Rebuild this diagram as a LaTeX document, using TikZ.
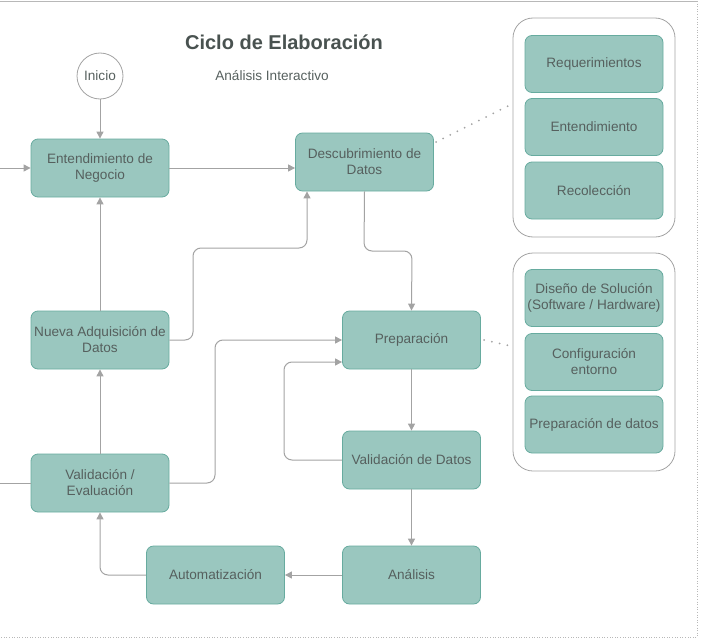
\documentclass[tikz,border=0pt]{standalone}
\usepackage{fontspec}
\setmainfont{Liberation Sans}
\usetikzlibrary{arrows.meta}
\definecolor{boxfill}{HTML}{9AC7BF}
\definecolor{boxline}{HTML}{67AB9F}
\definecolor{boxtext}{HTML}{56605E}
\definecolor{wire}{HTML}{A3A3A3}
\definecolor{frame}{HTML}{B8B8B8}
\begin{document}
\begin{tikzpicture}[x=1pt,y=-1pt,
  box/.style={draw=boxline,fill=boxfill,rounded corners=7pt,line width=0.8pt,
    minimum width=138pt,minimum height=58pt,inner sep=0pt,align=center,
    text=boxtext,font=\fontsize{13.6}{16}\selectfont},
  sbox/.style={box,minimum width=138pt,minimum height=57pt},
  group/.style={draw=wire,rounded corners=20pt,line width=0.8pt,minimum width=162pt,inner sep=0pt},
  conn/.style={draw=wire,line width=1pt,rounded corners=8pt,-{Triangle[length=7pt,width=7pt]}},
  plain/.style={draw=wire,line width=1pt},
  dots/.style={draw=wire,line width=2pt,dash pattern=on 0pt off 8pt,line cap=round}
]
\useasboundingbox (0,0) rectangle (701,642);
% page frame
\draw[frame,line width=0.6pt] (0,1) -- (697,1);
\draw[frame,line width=0.6pt,dotted] (697,1) -- (697,637) -- (0,637);

% titles
\node (title) at (284,42) {\fontsize{20}{22}\selectfont\bfseries\color{boxtext!85!black}Ciclo de Elaboración};
\node (sub) at (272,76) {\fontsize{13.6}{16}\selectfont\color{boxtext}Análisis Interactivo};
\node (ini) [circle,draw=wire,line width=0.8pt,minimum size=46pt,inner sep=0pt,
  text=boxtext,font=\fontsize{13.6}{16}\selectfont] at (100,76) {Inicio};

% main nodes
\node (ent) [box] at (100,168) {Entendimiento de\\Negocio};
\node (desc) [box] at (364.5,162) {Descubrimiento de\\Datos};
\node (nad) [box] at (100,340) {Nueva Adquisición de\\Datos};
\node (vev) [box] at (100,483) {Validación /\\Evaluación};
\node (aut) [box] at (215.5,575) {Automatización};
\node (ana) [box] at (411.5,575) {Análisis};
\node (prep) [box] at (411.5,340) {Preparación};
\node (vdat) [box] at (411.5,460) {Validación de Datos};

% groups
\node (g1) [group,minimum height=219pt] at (594,127.5) {};
\node (req) [sbox] at (594,64) {Requerimientos};
\node (ent2) [sbox] at (594,127) {Entendimiento};
\node (rec) [sbox] at (594,190.5) {Recolección};

\node (g2) [group,minimum height=218pt] at (594,362) {};
\node (dis) [sbox] at (594,298) {Diseño de Solución\\(Software / Hardware)};
\node (conf) [sbox] at (594,362) {Configuración\\entorno};
\node (pdat) [sbox] at (594,424.5) {Preparación de datos};

% coordinates for off-picture ends
\coordinate (lin) at (0,168);
\coordinate (lout) at (0,483);

% connectors
\draw[conn] (ini) -- (ent);
\draw[conn] (lin) -- (ent.west);
\draw[conn] (ent.east) -- (desc.west |- ent.east);
\draw[conn] (nad) -- (ent);
\draw[conn] (nad.east) -- (193,340) -- (193,248) -- (307,248) -- (desc.south -| 307,0);
\draw[conn] (desc.south) -- (364,251) -- (412,251) -- (prep.north);
\draw[conn] (vev) -- (nad);
\draw[conn] (vev.east) -- (215,483) -- (215,340) -- (prep.west);
\draw[conn] (vdat.west) -- (284,460) -- (284,362) -- (prep.west |- 0,362);
\draw[conn] (prep) -- (vdat);
\draw[conn] (vdat) -- (ana);
\draw[conn] (ana) -- (aut);
\draw[conn] (aut.west) -- (100,575) -- (vev.south);
\draw[plain] (vev.west) -- (lout);

% dotted links
\draw[dots] (436,142) -- (510,105);
\draw[dots] (484,340) -- (511,346);
\end{tikzpicture}
\end{document}
